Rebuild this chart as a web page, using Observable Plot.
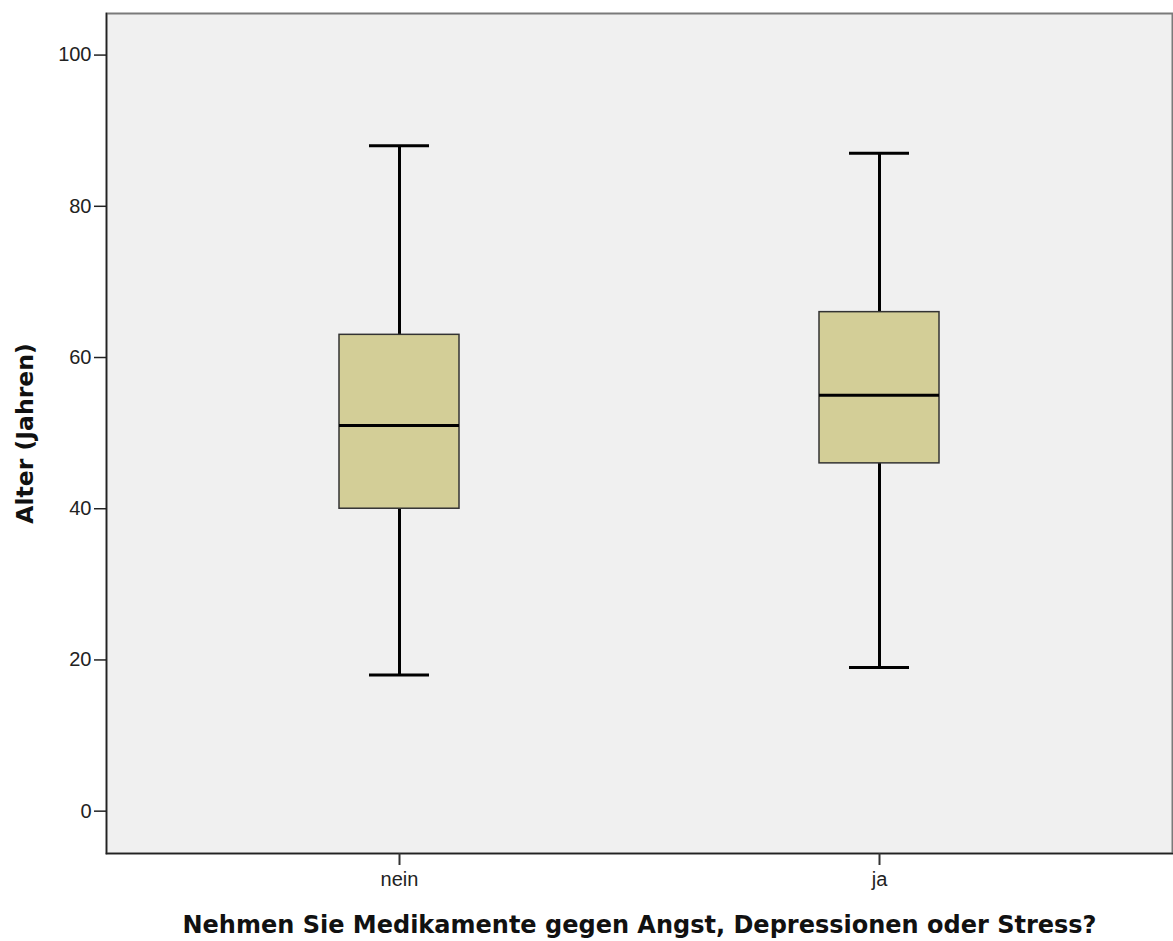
<!DOCTYPE html>
<html>
<head>
<meta charset="utf-8">
<script src="https://cdn.jsdelivr.net/npm/d3@7"></script>
<script src="https://cdn.jsdelivr.net/npm/@observablehq/plot@0.6"></script>
<style>
  html, body { margin: 0; padding: 0; background: #ffffff; }
  #chart svg { display: block; }
</style>
</head>
<body>
<div id="chart"></div>
<script>
const groups = ["nein", "ja"];
const mins    = [18, 19];
const q1s     = [40, 46];
const medians = [51, 55];
const q3s     = [63, 66];
const maxs    = [88, 87];
const yTicks  = [0, 20, 40, 60, 80, 100];
const yDomain = [-5.6, 105.5];
const xTitle = "Nehmen Sie Medikamente gegen Angst, Depressionen oder Stress?";
const yTitle = "Alter (Jahren)";

const data = groups.map((g, i) => ({
  group: g, min: mins[i], q1: q1s[i], median: medians[i], q3: q3s[i], max: maxs[i]
}));

const font = "'Liberation Sans', Arial, sans-serif";
const titleFont = "'DejaVu Sans', Verdana, sans-serif";

const chart = Plot.plot({
  width: 1173,
  height: 941,
  marginLeft: 106,
  marginRight: 1,
  marginTop: 13,
  marginBottom: 88,
  style: { fontFamily: font, background: "#ffffff", color: "#222" },
  x: { domain: groups, paddingInner: 0.75, paddingOuter: 0.484, label: null },
  y: { domain: yDomain, label: null },
  marks: [
    Plot.frame({ fill: "#f0f0f0", stroke: "#7a7a7a", strokeWidth: 2 }),
    Plot.frame({ anchor: "left", stroke: "#222", strokeWidth: 1.5 }),
    Plot.frame({ anchor: "bottom", stroke: "#222", strokeWidth: 1.5 }),
    Plot.axisY({ ticks: yTicks, tickSize: 12, tickPadding: 3, fontSize: 20, stroke: "#222", strokeWidth: 1.5, label: null }),
    Plot.axisX({ tickSize: 12, tickPadding: 6, fontSize: 20, stroke: "#333", strokeWidth: 2, label: null }),
    Plot.ruleX(data, { x: "group", y1: "q3", y2: "max", stroke: "#000", strokeWidth: 3 }),
    Plot.ruleX(data, { x: "group", y1: "min", y2: "q1", stroke: "#000", strokeWidth: 3 }),
    Plot.tickY(data, { x: "group", y: "max", stroke: "#000", strokeWidth: 3, insetLeft: 30, insetRight: 30 }),
    Plot.tickY(data, { x: "group", y: "min", stroke: "#000", strokeWidth: 3, insetLeft: 30, insetRight: 30 }),
    Plot.barY(data, { x: "group", y1: "q1", y2: "q3", fill: "#d3ce97", stroke: "#333", strokeWidth: 1.5 }),
    Plot.tickY(data, { x: "group", y: "median", stroke: "#000", strokeWidth: 3 }),
    Plot.text([yTitle], { frameAnchor: "left", textAnchor: "middle", dx: -81, rotate: -90, fontSize: 23.5, fontWeight: "bold", fill: "#111", fontFamily: titleFont }),
    Plot.text([xTitle], { frameAnchor: "bottom", textAnchor: "middle", dy: 79, fontSize: 24, fontWeight: "bold", fill: "#111", fontFamily: titleFont })
  ]
});

document.getElementById("chart").appendChild(chart);
</script>
</body>
</html>
